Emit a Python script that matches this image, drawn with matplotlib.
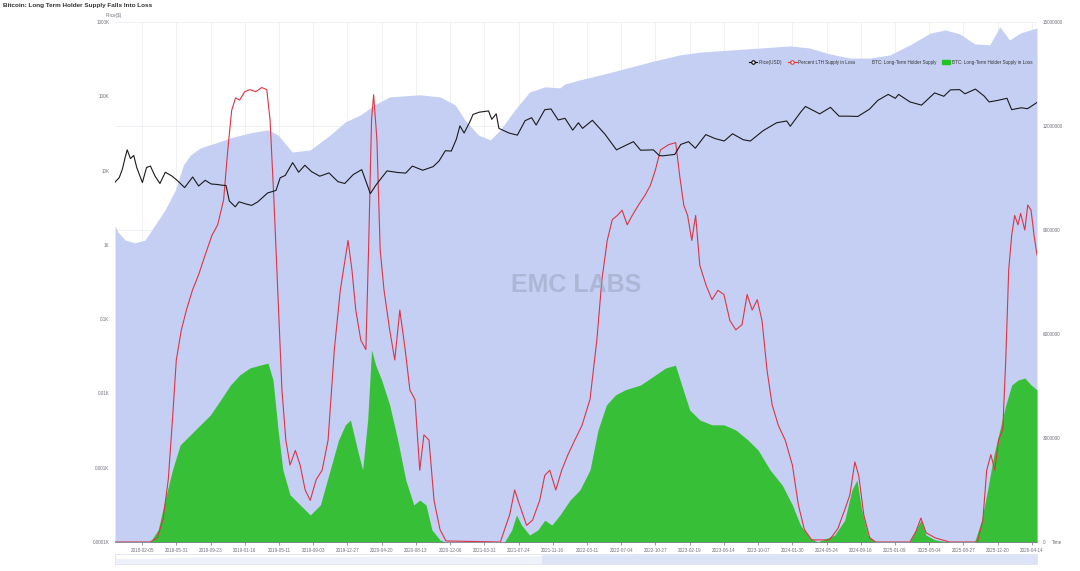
import matplotlib
matplotlib.use("Agg")
import matplotlib.pyplot as plt
import pandas as pd
from matplotlib.lines import Line2D
from matplotlib.patches import Patch
from matplotlib.ticker import FixedLocator, FuncFormatter, NullLocator

plt.rcParams["font.family"] = ["Liberation Sans", "DejaVu Sans"]

# ---- data ----
price_dates = ["2017-11-06", "2017-11-20", "2017-12-01", "2017-12-10", "2017-12-17", "2017-12-28",
               "2018-01-08", "2018-01-18", "2018-02-06", "2018-02-20", "2018-03-05", "2018-03-20",
               "2018-04-06", "2018-04-24", "2018-05-15", "2018-06-01", "2018-06-28", "2018-07-25",
               "2018-08-14", "2018-09-05", "2018-09-25", "2018-10-15", "2018-11-01", "2018-11-14",
               "2018-11-25", "2018-12-15", "2018-12-28", "2019-01-20", "2019-02-08", "2019-03-01",
               "2019-04-03", "2019-05-01", "2019-05-15", "2019-06-01", "2019-06-26", "2019-07-16",
               "2019-08-06", "2019-08-28", "2019-09-25", "2019-10-26", "2019-11-25", "2019-12-18",
               "2020-01-15", "2020-02-13", "2020-03-13", "2020-04-01", "2020-05-08", "2020-06-15",
               "2020-07-10", "2020-08-01", "2020-09-05", "2020-10-10", "2020-10-30", "2020-11-20",
               "2020-12-10", "2020-12-27", "2021-01-08", "2021-01-22", "2021-02-10", "2021-02-21",
               "2021-03-13", "2021-04-14", "2021-04-25", "2021-05-10", "2021-05-19", "2021-06-22",
               "2021-07-20", "2021-08-15", "2021-09-06", "2021-09-21", "2021-10-20", "2021-11-10",
               "2021-12-04", "2021-12-27", "2022-01-22", "2022-02-10", "2022-02-24", "2022-03-29",
               "2022-05-10", "2022-06-18", "2022-07-10", "2022-08-14", "2022-09-07", "2022-10-20",
               "2022-11-09", "2022-11-21", "2022-12-31", "2023-01-20", "2023-02-15", "2023-03-10",
               "2023-04-14", "2023-05-15", "2023-06-15", "2023-07-13", "2023-08-18", "2023-09-11",
               "2023-10-24", "2023-12-08", "2024-01-11", "2024-01-23", "2024-02-28", "2024-03-14",
               "2024-05-01", "2024-06-06", "2024-07-05", "2024-08-05", "2024-09-06", "2024-10-15",
               "2024-11-12", "2024-12-17", "2025-01-10", "2025-01-21", "2025-02-28", "2025-04-08",
               "2025-05-22", "2025-06-22", "2025-07-14", "2025-08-14", "2025-09-01", "2025-10-06",
               "2025-11-04", "2025-11-21", "2025-12-20", "2026-01-20", "2026-02-05", "2026-02-20",
               "2026-03-10", "2026-03-30", "2026-04-15", "2026-04-30"]
price_usd = [7000, 8000, 10500, 15000, 19000, 14500,
             16000, 11000, 6900, 11000, 11500, 8500,
             6700, 9500, 8500, 7500, 5900, 8200,
             6200, 7400, 6600, 6500, 6350, 6300,
             3900, 3250, 3800, 3550, 3400, 3800,
             5000, 5400, 8000, 8600, 12800, 9500,
             11800, 9700, 8400, 9300, 7100, 6700,
             8800, 10300, 4900, 6400, 9900, 9400,
             9250, 11500, 10100, 11300, 13500, 18500,
             18300, 26500, 40000, 32000, 45000, 57000,
             61000, 63500, 49000, 58000, 37000, 32000,
             30000, 47000, 51500, 41000, 66000, 67500,
             48000, 50500, 35000, 44000, 37000, 47500,
             31000, 19000, 21000, 24500, 18800, 19000,
             15900, 15800, 16500, 22500, 24500, 20000,
             30500, 27000, 25000, 31300, 26000, 25000,
             34500, 44000, 46500, 39500, 62000, 73000,
             58000, 71000, 54000, 54000, 53500, 67000,
             88000, 106000, 94000, 106000, 84000, 76000,
             111000, 100000, 122000, 123000, 108000, 125000,
             101000, 84000, 88000, 94000, 66000, 68000,
             70000, 68000, 75000, 82000]

lth_dates = ["2017-11-06", "2017-11-16", "2017-12-10", "2018-01-12", "2018-02-15", "2018-03-21",
             "2018-04-23", "2018-05-28", "2018-06-24", "2018-07-17", "2018-08-20", "2018-10-10",
             "2018-11-29", "2019-02-02", "2019-04-04", "2019-05-08", "2019-06-24", "2019-08-24",
             "2019-10-30", "2019-12-20", "2020-02-09", "2020-03-27", "2020-05-17", "2020-08-26",
             "2020-11-02", "2020-12-23", "2021-01-25", "2021-03-11", "2021-04-20", "2021-05-24",
             "2021-07-11", "2021-08-30", "2021-10-20", "2021-12-10", "2021-12-26", "2022-02-15",
             "2022-04-24", "2022-07-01", "2022-10-10", "2023-01-16", "2023-03-23", "2023-07-04",
             "2023-10-14", "2024-01-23", "2024-03-28", "2024-06-03", "2024-08-10", "2024-10-16",
             "2024-12-23", "2025-02-28", "2025-05-07", "2025-06-27", "2025-08-14", "2025-10-03",
             "2025-11-23", "2025-12-27", "2026-01-29", "2026-03-05", "2026-05-01"]
lth_supply = [9.12, 8.94, 8.71, 8.63, 8.71, 9.15,
              9.58, 10.15, 10.88, 11.16, 11.37, 11.51,
              11.66, 11.80, 11.89, 11.74, 11.25, 11.31,
              11.74, 12.12, 12.32, 12.61, 12.84, 12.90,
              12.84, 12.61, 12.17, 11.74, 11.60, 11.89,
              12.46, 12.98, 13.13, 13.10, 13.21, 13.33,
              13.47, 13.62, 13.85, 14.05, 14.13, 14.19,
              14.25, 14.31, 14.25, 14.08, 13.96, 13.96,
              14.05, 14.34, 14.68, 14.77, 14.66, 14.37,
              14.34, 14.86, 14.48, 14.68, 14.83]  # million BTC

loss_dates = ["2017-11-06", "2018-03-04", "2018-03-31", "2018-04-23", "2018-05-18", "2018-06-13",
              "2018-07-17", "2018-08-20", "2018-09-22", "2018-10-27", "2018-11-29", "2018-12-30",
              "2019-02-02", "2019-03-07", "2019-04-04", "2019-04-21", "2019-05-08", "2019-05-24",
              "2019-06-17", "2019-07-21", "2019-08-24", "2019-09-27", "2019-10-30", "2019-11-27",
              "2019-12-20", "2020-01-06", "2020-01-30", "2020-02-16", "2020-03-04", "2020-03-17",
              "2020-03-31", "2020-04-20", "2020-05-17", "2020-06-13", "2020-07-10", "2020-08-06",
              "2020-08-26", "2020-09-16", "2020-10-06", "2020-11-02", "2020-11-19", "2021-06-07",
              "2021-07-01", "2021-07-17", "2021-08-03", "2021-08-30", "2021-09-27", "2021-10-20",
              "2021-11-13", "2021-12-10", "2022-01-13", "2022-02-15", "2022-03-21", "2022-04-17",
              "2022-05-15", "2022-06-14", "2022-07-17", "2022-09-07", "2022-10-27", "2022-11-30",
              "2023-01-02", "2023-01-23", "2023-02-19", "2023-03-25", "2023-05-05", "2023-06-14",
              "2023-07-24", "2023-09-03", "2023-10-07", "2023-11-16", "2023-12-27", "2024-01-30",
              "2024-02-26", "2024-03-28", "2024-04-24", "2024-06-20", "2024-07-24", "2024-08-17",
              "2024-09-03", "2024-09-19", "2024-10-10", "2024-11-03", "2025-02-28", "2025-03-20",
              "2025-04-06", "2025-04-23", "2025-05-24", "2025-07-11", "2025-10-03", "2025-10-27",
              "2025-11-16", "2025-12-07", "2025-12-27", "2026-01-16", "2026-02-05", "2026-02-26",
              "2026-03-21", "2026-04-11", "2026-05-01"]
lth_in_loss = [0.0, 0.0, 0.35, 1.21, 2.08, 2.80,
               3.09, 3.38, 3.66, 4.10, 4.53, 4.82,
               5.02, 5.10, 5.16, 4.67, 3.23, 2.08,
               1.36, 1.07, 0.78, 1.07, 2.08, 2.94,
               3.38, 3.52, 2.65, 2.08, 3.52, 5.54,
               5.10, 4.67, 3.95, 2.94, 1.79, 1.07,
               1.21, 1.07, 0.35, 0.06, 0.0, 0.0,
               0.35, 0.78, 0.49, 0.20, 0.35, 0.63,
               0.49, 0.78, 1.21, 1.50, 2.08, 3.23,
               3.95, 4.24, 4.39, 4.53, 4.82, 5.02,
               5.10, 4.53, 3.81, 3.52, 3.38, 3.38,
               3.23, 2.94, 2.65, 2.08, 1.64, 1.07,
               0.49, 0.12, 0.0, 0.20, 0.63, 1.50,
               1.79, 0.92, 0.20, 0.0, 0.0, 0.35,
               0.63, 0.20, 0.06, 0.0, 0.0, 0.63,
               1.50, 2.51, 3.23, 3.95, 4.53, 4.67,
               4.73, 4.53, 4.39]  # million BTC

pct_dates = ["2017-11-06", "2018-03-04", "2018-03-28", "2018-04-16", "2018-05-04", "2018-05-18",
             "2018-05-31", "2018-06-17", "2018-07-04", "2018-07-24", "2018-08-14", "2018-09-05",
             "2018-09-28", "2018-10-17", "2018-11-06", "2018-11-20", "2018-12-03", "2018-12-16",
             "2018-12-30", "2019-01-16", "2019-02-02", "2019-02-22", "2019-03-14", "2019-03-31",
             "2019-04-11", "2019-04-24", "2019-05-08", "2019-05-21", "2019-06-03", "2019-06-17",
             "2019-07-05", "2019-07-21", "2019-08-07", "2019-08-24", "2019-09-13", "2019-10-03",
             "2019-10-23", "2019-11-13", "2019-12-03", "2019-12-16", "2019-12-29", "2020-01-11",
             "2020-01-24", "2020-02-10", "2020-02-27", "2020-03-07", "2020-03-17", "2020-03-24",
             "2020-04-04", "2020-04-15", "2020-04-28", "2020-05-17", "2020-06-03", "2020-06-20",
             "2020-07-08", "2020-07-24", "2020-08-10", "2020-08-26", "2020-09-09", "2020-09-26",
             "2020-10-13", "2020-11-02", "2020-11-22", "2021-05-24", "2021-06-07", "2021-06-24",
             "2021-07-11", "2021-07-27", "2021-08-20", "2021-09-09", "2021-10-03", "2021-10-20",
             "2021-11-06", "2021-11-26", "2021-12-16", "2022-01-06", "2022-01-29", "2022-02-22",
             "2022-03-21", "2022-04-13", "2022-04-30", "2022-05-18", "2022-06-04", "2022-06-21",
             "2022-07-07", "2022-07-24", "2022-08-10", "2022-08-31", "2022-09-23", "2022-10-10",
             "2022-10-27", "2022-11-13", "2022-12-10", "2023-01-03", "2023-01-16", "2023-01-30",
             "2023-02-12", "2023-02-26", "2023-03-11", "2023-03-25", "2023-04-15", "2023-05-05",
             "2023-05-25", "2023-06-14", "2023-07-04", "2023-07-24", "2023-08-14", "2023-08-31",
             "2023-09-17", "2023-10-04", "2023-10-20", "2023-11-06", "2023-11-23", "2023-12-14",
             "2024-01-06", "2024-01-30", "2024-02-19", "2024-03-10", "2024-04-04", "2024-06-03",
             "2024-07-01", "2024-07-24", "2024-08-10", "2024-08-27", "2024-09-09", "2024-09-26",
             "2024-10-16", "2024-11-05", "2025-02-28", "2025-03-20", "2025-04-06", "2025-04-23",
             "2025-05-24", "2025-07-11", "2025-10-13", "2025-10-31", "2025-11-13", "2025-11-27",
             "2025-12-10", "2025-12-23", "2026-01-06", "2026-01-16", "2026-01-26", "2026-02-05",
             "2026-02-15", "2026-02-26", "2026-03-07", "2026-03-21", "2026-03-31", "2026-04-11",
             "2026-04-21", "2026-05-01"]
pct_in_loss = [0.0, 0.0, 0.4, 2.1, 6.0, 11.7,
               17.5, 20.4, 22.3, 24.2, 25.7, 27.6,
               29.5, 30.5, 32.9, 37.7, 41.5, 42.7,
               42.5, 43.3, 43.5, 43.3, 43.7, 43.5,
               40.6, 32.9, 23.3, 14.6, 9.8, 7.4,
               8.8, 7.4, 5.0, 4.0, 6.0, 6.9,
               9.8, 18.5, 24.2, 26.6, 29.0, 26.2,
               22.3, 19.4, 18.5, 28.1, 40.6, 43.0,
               38.7, 28.1, 24.2, 20.4, 17.5, 22.3,
               18.5, 14.6, 13.7, 6.9, 10.3, 9.8,
               4.0, 1.2, 0.1, 0.0, 1.2, 2.6,
               5.0, 3.6, 1.6, 2.1, 4.0, 6.4,
               6.9, 5.0, 6.9, 8.4, 9.8, 11.2,
               13.7, 19.4, 25.2, 29.0, 31.0, 31.4,
               31.9, 30.5, 31.4, 32.4, 33.4, 34.3,
               35.8, 37.7, 38.2, 38.4, 35.3, 32.4,
               31.4, 29.0, 31.4, 26.6, 24.7, 23.3,
               24.2, 23.8, 21.3, 20.4, 20.9, 23.8,
               22.3, 23.3, 21.3, 16.5, 13.2, 11.2,
               9.8, 7.4, 3.6, 1.2, 0.2, 0.2,
               1.3, 3.1, 4.5, 7.7, 6.4, 2.6,
               0.4, 0.0, 0.0, 1.0, 2.3, 0.9,
               0.4, 0.0, 0.0, 2.1, 6.9, 8.4,
               6.9, 9.8, 10.8, 17.5, 26.2, 29.5,
               31.4, 30.5, 31.6, 30.0, 32.4, 31.9,
               29.5, 27.6]  # percent

tick_labels = ["2018-02-05", "2018-05-31", "2018-09-23", "2019-01-16", "2019-05-11", "2019-09-03",
               "2019-12-27", "2020-04-20", "2020-08-13", "2020-12-06", "2021-03-31", "2021-07-24",
               "2021-11-16", "2022-03-11", "2022-07-04", "2022-10-27", "2023-02-19", "2023-06-14",
               "2023-10-07", "2024-01-30", "2024-05-24", "2024-09-16", "2025-01-09", "2025-05-04",
               "2025-08-27", "2025-12-20", "2026-04-14"]
price_ticks = [0.1, 1, 10, 100, 1e3, 1e4, 1e5, 1e6]
supply_ticks = [0, 3, 6, 9, 12, 15]

# ---- styling ----
C_AREA = "#c5cff3"
C_GREEN = "#37c037"
C_RED = "#dc3545"
C_TXT = "#6e7079"
C_GRID = "#eceef3"
FS = 3.3
x_start, x_end = pd.Timestamp("2017-11-06"), pd.Timestamp("2026-05-01")

fig = plt.figure(figsize=(10.8, 5.71), dpi=100)
fig.patch.set_facecolor("white")
ax = fig.add_axes([115 / 1080, 1 - 542 / 571, 922 / 1080, 520 / 571])
ax2 = ax.twinx()
ax3 = ax.twinx()
ax.set_zorder(3)
ax3.set_zorder(2)
ax2.set_zorder(1)
for a in (ax, ax2, ax3):
    a.patch.set_visible(False)
    for s in a.spines.values():
        s.set_visible(False)

# grid lines sit under the filled areas
ax2.set_axisbelow(True)
ax2.grid(axis="y", color=C_GRID, lw=0.6)
for d in pd.to_datetime(tick_labels):
    ax2.axvline(d, color=C_GRID, lw=0.6, zorder=0.5)

# supply area + supply in loss (right axis)
ax2.fill_between(pd.to_datetime(lth_dates), 0, lth_supply, color=C_AREA, lw=0, zorder=1)
ax2.fill_between(pd.to_datetime(loss_dates), 0, lth_in_loss, color=C_GREEN, lw=0, zorder=2)
ax2.set_ylim(0, 15)
ax2.yaxis.set_major_locator(FixedLocator(supply_ticks))
ax2.yaxis.set_major_formatter(FuncFormatter(lambda v, p: f"{int(round(v * 1e6))}"))
ax2.tick_params(axis="y", length=0, labelsize=FS, colors=C_TXT, pad=4)

# percent line (hidden axis)
ax3.plot(pd.to_datetime(pct_dates), pct_in_loss, color=C_RED, lw=0.8)
ax3.set_ylim(0, 50)
ax3.set_yticks([])

# price (left log axis)
ax.plot(pd.to_datetime(price_dates), price_usd, color="#1a1a1a", lw=0.8)
ax.set_yscale("log")
ax.set_ylim(0.1, 1e6)
ax.yaxis.set_major_locator(FixedLocator(price_ticks))
ax.yaxis.set_minor_locator(NullLocator())
ax.yaxis.set_major_formatter(FuncFormatter(lambda v, p: f"{v / 1000:g}K"))
ax.tick_params(axis="y", length=0, labelsize=FS, colors=C_TXT, pad=4)

ax.set_xlim(x_start, x_end)
ax.set_xticks(pd.to_datetime(tick_labels))
ax.set_xticklabels(tick_labels)
ax.tick_params(axis="x", length=2, width=0.5, color=C_TXT, labelsize=FS, labelcolor=C_TXT, pad=2)
ax.spines["bottom"].set_visible(True)
ax.spines["bottom"].set_color(C_TXT)
ax.spines["bottom"].set_linewidth(0.5)

# legend
handles = [
    Line2D([], [], color="black", lw=0.8, marker="o", ms=2.5, mfc="white", mew=0.8),
    Line2D([], [], color="#ee3333", lw=0.8, marker="o", ms=2.5, mfc="white", mew=0.8),
    Patch(color=C_AREA),
    Patch(color="#22c322"),
]
labels = ["Price(USD)", "Percent LTH Supply in Loss", "BTC: Long-Term Holder Supply",
          "BTC: Long-Term Holder Supply in Loss"]
ax.legend(handles, labels, loc="upper right", bbox_to_anchor=(1.0, 0.935), ncol=4, frameon=False,
          fontsize=FS, handlelength=1.8, handleheight=0.9, columnspacing=1.3, handletextpad=0.4,
          labelcolor="#333333")

# texts
fig.text(3 / 1080, 1 - 6 / 571, "Bitcoin: Long Term Holder Supply Falls Into Loss", fontsize=4.6,
         color="#333333", fontweight="bold", va="center", ha="left")
fig.text(114 / 1080, 1 - 15 / 571, "Price($)", fontsize=FS, color=C_TXT, ha="center", va="center")
fig.text(1052 / 1080, 1 - 542 / 571, "Time", fontsize=FS, color=C_TXT, ha="left", va="center")
ax.text(0.5, 0.495, "EMC LABS", transform=ax.transAxes, fontsize=18, color="#9aa3bd", alpha=0.55,
        ha="center", va="center", fontweight="bold", zorder=0)

# data zoom slider
sl = fig.add_axes([115 / 1080, 1 - 564 / 571, 922 / 1080, 10 / 571])
sl.set_xlim(x_start, x_end)
sl.set_ylim(0, 16)
sl.fill_between(pd.to_datetime(lth_dates), 0, lth_supply, color="#eef1fa", lw=0)
sl.axvspan(pd.Timestamp("2021-10-10"), x_end, color="#d3dbf5", alpha=0.6, lw=0)
sl.set_xticks([])
sl.set_yticks([])
for s in sl.spines.values():
    s.set_color("#dfe3ee")
    s.set_linewidth(0.6)

fig.savefig("out.png", dpi=100)
